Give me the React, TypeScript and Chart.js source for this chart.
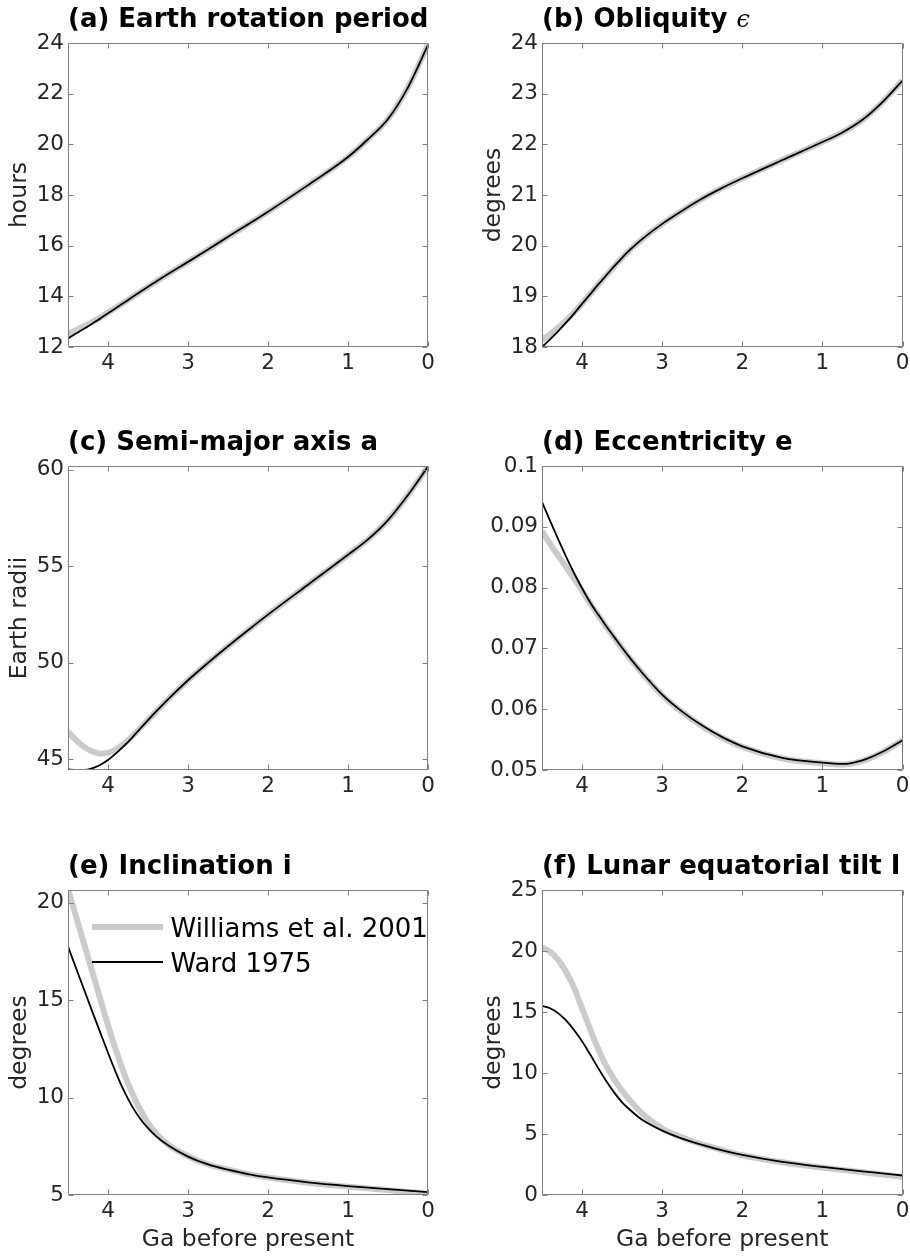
import React, { useEffect, useRef } from 'react';
import { Chart, registerables } from 'chart.js';

Chart.register(...registerables);

// ---------- data (Ga before present) ----------
const AGE = [4.5, 4.4, 4.3, 4.2, 4.1, 4.0, 3.9, 3.8, 3.7, 3.6, 3.5, 3.4, 3.25, 3.0, 2.75, 2.5, 2.25, 2.0, 1.5, 1.0, 0.75, 0.5, 0.25, 0];
const X_TICKS = [4, 3, 2, 1, 0];

const SERIES_NAMES = ['Williams et al. 2001', 'Ward 1975'];

// (a) Earth rotation period, hours
const ROT_WILLIAMS = [12.52, 12.66, 12.82, 12.98, 13.16, 13.36, 13.56, 13.76, 13.96, 14.17, 14.38, 14.58, 14.88, 15.36, 15.85, 16.35, 16.84, 17.34, 18.39, 19.5, 20.2, 21.0, 22.25, 23.93];
const ROT_WARD = [12.34, 12.53, 12.72, 12.92, 13.12, 13.33, 13.54, 13.75, 13.96, 14.17, 14.38, 14.58, 14.88, 15.36, 15.85, 16.35, 16.84, 17.34, 18.39, 19.5, 20.2, 21.0, 22.25, 23.93];
const ROT_TICKS = [12, 14, 16, 18, 20, 22, 24];

// (b) Obliquity, degrees
const OBL_WILLIAMS = [18.14, 18.25, 18.38, 18.52, 18.68, 18.86, 19.04, 19.23, 19.41, 19.59, 19.76, 19.92, 20.13, 20.43, 20.69, 20.93, 21.14, 21.33, 21.69, 22.045, 22.235, 22.485, 22.835, 23.26];
const OBL_WARD = [18.0, 18.15, 18.31, 18.48, 18.66, 18.85, 19.04, 19.23, 19.41, 19.59, 19.76, 19.92, 20.13, 20.43, 20.69, 20.93, 21.14, 21.33, 21.69, 22.045, 22.235, 22.485, 22.835, 23.26];
const OBL_TICKS = [18, 19, 20, 21, 22, 23, 24];

// (c) Semi-major axis, Earth radii
const SMA_WILLIAMS = [46.43, 46.0, 45.65, 45.42, 45.31, 45.34, 45.52, 45.8, 46.18, 46.6, 47.04, 47.47, 48.11, 49.1, 50.0, 50.86, 51.69, 52.5, 54.05, 55.6, 56.4, 57.4, 58.7, 60.17];
const SMA_WARD = [44.48, 44.45, 44.45, 44.53, 44.71, 44.97, 45.31, 45.7, 46.12, 46.58, 47.03, 47.47, 48.11, 49.1, 50.0, 50.86, 51.69, 52.5, 54.05, 55.6, 56.4, 57.4, 58.7, 60.17];
const SMA_TICKS = [45, 50, 55, 60];

// (d) Eccentricity
const ECC_WILLIAMS = [0.0893, 0.0872, 0.0853, 0.0834, 0.0815, 0.0795, 0.0774, 0.0755, 0.0736, 0.0718, 0.07, 0.0683, 0.0659, 0.0623, 0.0595, 0.0572, 0.0553, 0.0538, 0.0519, 0.0511, 0.0509, 0.0515, 0.0529, 0.0549];
const ECC_WARD = [0.0941, 0.091, 0.088, 0.0851, 0.0824, 0.0799, 0.0776, 0.0756, 0.0737, 0.0719, 0.0701, 0.0684, 0.066, 0.0624, 0.0596, 0.0573, 0.0554, 0.0539, 0.052, 0.0512, 0.051, 0.0516, 0.053, 0.0549];
const ECC_TICKS = [0.05, 0.06, 0.07, 0.08, 0.09, 0.1];

// (e) Inclination, degrees
const INC_WILLIAMS = [20.7, 19.3, 17.9, 16.5, 15.1, 13.72, 12.42, 11.25, 10.25, 9.4, 8.7, 8.15, 7.6, 6.99, 6.57, 6.3, 6.07, 5.9, 5.63, 5.43, 5.34, 5.25, 5.16, 5.07];
const INC_WARD = [17.75, 16.65, 15.55, 14.45, 13.37, 12.3, 11.27, 10.34, 9.56, 8.93, 8.43, 8.02, 7.55, 6.97, 6.57, 6.3, 6.07, 5.9, 5.65, 5.46, 5.38, 5.3, 5.22, 5.15];
const INC_TICKS = [5, 10, 15, 20];

// (f) Lunar equatorial tilt, degrees
const TILT_WILLIAMS = [20.3, 19.95, 19.3, 18.3, 17.0, 15.3, 13.6, 12.0, 10.6, 9.5, 8.55, 7.75, 6.68, 5.45, 4.72, 4.15, 3.68, 3.26, 2.68, 2.25, 2.06, 1.87, 1.68, 1.48];
const TILT_WARD = [15.5, 15.31, 14.91, 14.31, 13.53, 12.6, 11.53, 10.42, 9.36, 8.41, 7.6, 6.97, 6.17, 5.28, 4.62, 4.1, 3.65, 3.28, 2.71, 2.3, 2.12, 1.94, 1.77, 1.6];
const TILT_TICKS = [0, 5, 10, 15, 20, 25];

// ---------- styling / layout ----------
const FONT = '"DejaVu Sans", "Liberation Sans", sans-serif';
const TEXT = '#262626';
const AXIS = '#7f7f7f';
const GREY = '#cbcbcb';
const TICK_SIZE = 21.5;
const LABEL_SIZE = 23.5;

type Part = { text: string; font: string };
type Panel = {
  title: Part[];
  yLabel?: string;
  xLabel?: string;
  yMin: number;
  yMax: number;
  yTicks: number[];
  will: number[];
  ward: number[];
  legend?: boolean;
  canvas: [number, number, number, number];
  area: [number, number, number, number];
};

const BOLD = `bold 26px ${FONT}`;
const COLS = [
  { cx: 0, cw: 455, l: 68, r: 428 },
  { cx: 455, cw: 470, l: 542, r: 902.5 },
];
const ROWS = [
  { cy: 0, ch: 400, t: 43, b: 347 },
  { cy: 400, ch: 420, t: 466, b: 770 },
  { cy: 820, ch: 437, t: 890, b: 1195 },
];
const geo = (c: number, r: number) => ({
  canvas: [COLS[c].cx, ROWS[r].cy, COLS[c].cw, ROWS[r].ch] as [number, number, number, number],
  area: [COLS[c].l, ROWS[r].t, COLS[c].r, ROWS[r].b] as [number, number, number, number],
});

const PANELS: Panel[] = [
  { title: [{ text: '(a) Earth rotation period', font: BOLD }], yLabel: 'hours', yMin: 12, yMax: 24, yTicks: ROT_TICKS, will: ROT_WILLIAMS, ward: ROT_WARD, ...geo(0, 0) },
  { title: [{ text: '(b) Obliquity ', font: BOLD }, { text: 'ϵ', font: `italic 24px "DejaVu Serif", serif` }], yLabel: 'degrees', yMin: 18, yMax: 24, yTicks: OBL_TICKS, will: OBL_WILLIAMS, ward: OBL_WARD, ...geo(1, 0) },
  { title: [{ text: '(c) Semi-major axis a', font: BOLD }], yLabel: 'Earth radii', yMin: 44.45, yMax: 60.2, yTicks: SMA_TICKS, will: SMA_WILLIAMS, ward: SMA_WARD, ...geo(0, 1) },
  { title: [{ text: '(d) Eccentricity e', font: BOLD }], yMin: 0.05, yMax: 0.1, yTicks: ECC_TICKS, will: ECC_WILLIAMS, ward: ECC_WARD, ...geo(1, 1) },
  { title: [{ text: '(e) Inclination i', font: BOLD }], yLabel: 'degrees', xLabel: 'Ga before present', yMin: 5, yMax: 20.65, yTicks: INC_TICKS, will: INC_WILLIAMS, ward: INC_WARD, legend: true, ...geo(0, 2) },
  { title: [{ text: '(f) Lunar equatorial tilt I', font: BOLD }], yLabel: 'degrees', xLabel: 'Ga before present', yMin: 0, yMax: 25, yTicks: TILT_TICKS, will: TILT_WILLIAMS, ward: TILT_WARD, ...geo(1, 2) },
];

const decoPlugin = {
  id: 'panelDeco',
  afterDatasetsDraw(chart: any) {
    const { ctx, chartArea: a, scales } = chart;
    ctx.save();
    ctx.strokeStyle = AXIS;
    ctx.lineWidth = 1;
    const L = Math.round(a.left) + 0.5, R = Math.round(a.right) - 0.5;
    const T = Math.round(a.top) + 0.5, B = Math.round(a.bottom) - 0.5;
    ctx.beginPath();
    ctx.rect(L, T, R - L, B - T);
    const tl = 5;
    scales.x.ticks.forEach((t: any) => {
      const px = Math.round(scales.x.getPixelForValue(t.value)) + 0.5;
      ctx.moveTo(px, B); ctx.lineTo(px, B - tl);
      ctx.moveTo(px, T); ctx.lineTo(px, T + tl);
    });
    scales.y.ticks.forEach((t: any) => {
      const py = Math.round(scales.y.getPixelForValue(t.value)) + 0.5;
      ctx.moveTo(L, py); ctx.lineTo(L + tl, py);
      ctx.moveTo(R, py); ctx.lineTo(R - tl, py);
    });
    ctx.stroke();
    ctx.restore();
  },
  afterDraw(chart: any, _args: any, opts: any) {
    const { ctx, chartArea: a } = chart;
    ctx.save();
    let x = a.left;
    const y = a.top - 16.5;
    ctx.fillStyle = '#000';
    ctx.textBaseline = 'alphabetic';
    ctx.textAlign = 'left';
    (opts.title || []).forEach((p: Part) => {
      ctx.font = p.font;
      ctx.fillText(p.text, x, y);
      x += ctx.measureText(p.text).width;
    });
    if (opts.legend) {
      ctx.font = `26px ${FONT}`;
      chart.data.datasets.forEach((ds: any, i: number) => {
        const ly = a.top + 37 + i * 35;
        ctx.beginPath();
        ctx.strokeStyle = ds.borderColor;
        ctx.lineWidth = ds.borderWidth;
        ctx.lineCap = 'butt';
        ctx.moveTo(a.left + 24, ly);
        ctx.lineTo(a.left + 95, ly);
        ctx.stroke();
        ctx.fillStyle = '#000';
        ctx.fillText(ds.label, a.left + 102.5, ly + 9.5);
      });
    }
    ctx.restore();
  },
};

const fmt = (v: number) => String(parseFloat(Number(v).toFixed(4)));

function PanelChart({ p }: { p: Panel }) {
  const ref = useRef<HTMLCanvasElement | null>(null);
  const [cx, cy, cw, ch] = p.canvas;
  const [al, at, ar, ab] = p.area;
  useEffect(() => {
    if (!ref.current) return;
    const yTitleMid = al - 48 - cx;
    const half = (LABEL_SIZE * 1.2) / 2;
    const chart = new Chart(ref.current, {
      type: 'line',
      data: {
        datasets: [
          {
            label: SERIES_NAMES[0],
            data: AGE.map((x, i) => ({ x, y: p.will[i] })),
            borderColor: GREY,
            borderWidth: 6,
            order: 1,
          },
          {
            label: SERIES_NAMES[1],
            data: AGE.map((x, i) => ({ x, y: p.ward[i] })),
            borderColor: '#000000',
            borderWidth: 1.8,
            order: 0,
          },
        ],
      } as any,
      options: {
        animation: false,
        responsive: false,
        maintainAspectRatio: false,
        devicePixelRatio: 1,
        layout: { padding: { left: 0, top: at - cy, right: cx + cw - ar, bottom: 0 } },
        elements: {
          point: { radius: 0, hoverRadius: 0 },
          line: { cubicInterpolationMode: 'monotone', borderJoinStyle: 'round', borderCapStyle: 'butt', fill: false },
        },
        datasets: { line: { clip: 0 } } as any,
        events: [],
        plugins: {
          legend: { display: false },
          tooltip: { enabled: false },
          title: { display: false },
          panelDeco: { title: p.title, legend: !!p.legend },
        } as any,
        scales: {
          x: {
            type: 'linear',
            min: 0,
            max: 4.5,
            reverse: true,
            grid: { display: false, drawTicks: false },
            border: { display: false },
            ticks: { font: { family: FONT, size: TICK_SIZE }, color: TEXT, padding: 4, maxRotation: 0, autoSkip: false, callback: (v: any) => fmt(v) },
            afterBuildTicks: (s: any) => { s.ticks = X_TICKS.map((v) => ({ value: v })); },
            afterFit: (s: any) => { s.height = cy + ch - ab; s.paddingLeft = 0; s.paddingRight = 0; },
            title: p.xLabel
              ? { display: true, text: p.xLabel, color: TEXT, font: { family: FONT, size: LABEL_SIZE }, padding: { top: 0, bottom: 17 - half } }
              : { display: false },
          },
          y: {
            type: 'linear',
            min: p.yMin,
            max: p.yMax,
            grid: { display: false, drawTicks: false },
            border: { display: false },
            ticks: { font: { family: FONT, size: TICK_SIZE }, color: TEXT, padding: 4, autoSkip: false, callback: (v: any) => fmt(v) },
            afterBuildTicks: (s: any) => { s.ticks = p.yTicks.map((v) => ({ value: v })); },
            afterFit: (s: any) => { s.width = al - cx; s.paddingTop = 0; s.paddingBottom = 0; },
            title: p.yLabel
              ? { display: true, text: p.yLabel, color: TEXT, font: { family: FONT, size: LABEL_SIZE }, padding: { top: yTitleMid - half, bottom: 0 } }
              : { display: false },
          },
        },
      } as any,
      plugins: [decoPlugin as any],
    });
    return () => chart.destroy();
  }, [p]);
  return (
    <canvas
      ref={ref}
      width={cw}
      height={ch}
      style={{ position: 'absolute', left: cx, top: cy, width: cw, height: ch, display: 'block' }}
    />
  );
}

export default function App() {
  return (
    <div style={{ position: 'absolute', left: 0, top: 0, width: 910, height: 1257, overflow: 'hidden', background: '#ffffff' }}>
      {PANELS.map((p, i) => (
        <PanelChart key={i} p={p} />
      ))}
    </div>
  );
}
